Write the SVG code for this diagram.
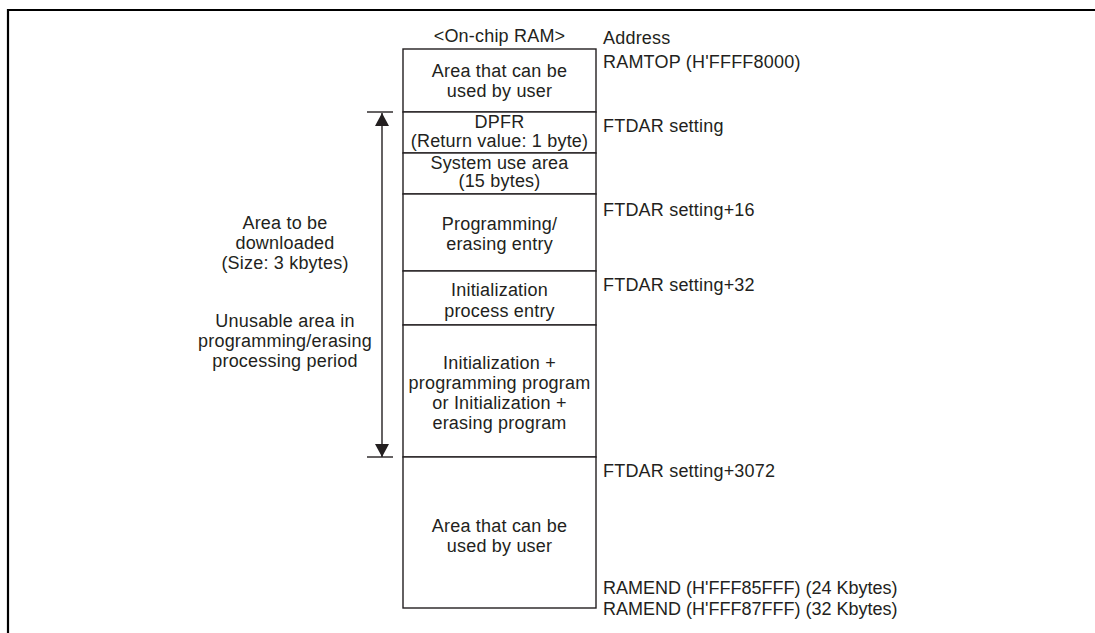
<svg xmlns="http://www.w3.org/2000/svg" width="1095" height="633" viewBox="0 0 1095 633">
<style>
text{font-family:"Liberation Sans",Arial,sans-serif;font-size:18px;letter-spacing:0.2px;fill:#231f20}
.c{text-anchor:middle}
.t{letter-spacing:0}
.cell{fill:#fff;stroke:#231f20;stroke-width:1.4}
.ln{stroke:#231f20;stroke-width:1.4;fill:none}
.frame{stroke:#000;stroke-width:2.2;fill:none}
</style>
<defs>
<marker id="ah" viewBox="0 0 13 14" refX="13" refY="7" markerWidth="13" markerHeight="14" markerUnits="userSpaceOnUse" orient="auto">
<path d="M0,0 L13,7 L0,14 Z" fill="#231f20"/>
</marker>
</defs>
<rect width="1095" height="633" fill="#fff"/>
<path class="frame" d="M8,633 V10 H1095"/>
<g id="title"><text class="c" x="499.5" y="42">&lt;On-chip RAM&gt;</text></g>
<g id="cell-user-top"><rect class="cell" x="403" y="49" width="193" height="63"/><text class="c" x="499.5" y="77">Area that can be</text><text class="c" x="499.5" y="97">used by user</text></g>
<g id="cell-dpfr"><rect class="cell" x="403" y="112" width="193" height="41"/><text class="c" x="499.5" y="127.5">DPFR</text><text class="c" x="499.5" y="146.5">(Return value: 1 byte)</text></g>
<g id="cell-system"><rect class="cell" x="403" y="153" width="193" height="41"/><text class="c" x="499.5" y="168.5">System use area</text><text class="c" x="499.5" y="187">(15 bytes)</text></g>
<g id="cell-prog-entry"><rect class="cell" x="403" y="194" width="193" height="77"/><text class="c" x="499.5" y="230">Programming/</text><text class="c" x="499.5" y="249.5">erasing entry</text></g>
<g id="cell-init-entry"><rect class="cell" x="403" y="271" width="193" height="54"/><text class="c" x="499.5" y="296">Initialization</text><text class="c" x="499.5" y="316.5">process entry</text></g>
<g id="cell-program"><rect class="cell" x="403" y="325" width="193" height="132"/><text class="c" x="499.5" y="368.5">Initialization +</text><text class="c" x="499.5" y="388.5">programming program</text><text class="c" x="499.5" y="409">or Initialization +</text><text class="c" x="499.5" y="429">erasing program</text></g>
<g id="cell-user-bottom"><rect class="cell" x="403" y="457" width="193" height="151"/><text class="c" x="499.5" y="531.5">Area that can be</text><text class="c" x="499.5" y="551.5">used by user</text></g>
<g id="addresses">
<text x="603" y="43.5">Address</text>
<text x="603" y="68">RAMTOP (H'FFFF8000)</text>
<text x="603" y="131.5">FTDAR setting</text>
<text x="603" y="215.5">FTDAR setting+16</text>
<text x="603" y="290.5">FTDAR setting+32</text>
<text x="603" y="476.5">FTDAR setting+3072</text>
<text class="t" x="603" y="594">RAMEND (H'FFF85FFF) (24 Kbytes)</text>
<text class="t" x="603" y="615">RAMEND (H'FFF87FFF) (32 Kbytes)</text>
</g>
<g id="left-labels">
<text class="c" x="285" y="229">Area to be</text>
<text class="c" x="285" y="249">downloaded</text>
<text class="c" x="285" y="269">(Size: 3 kbytes)</text>
<text class="c" x="285" y="327">Unusable area in</text>
<text class="c" x="285" y="347">programming/erasing</text>
<text class="c" x="285" y="367">processing period</text>
</g>
<g id="connectors">
<line class="ln" x1="367" y1="112" x2="393" y2="112"/>
<line class="ln" x1="367" y1="457" x2="393" y2="457"/>
<line class="ln" x1="382" y1="284" x2="382" y2="113" marker-end="url(#ah)"/>
<line class="ln" x1="382" y1="284" x2="382" y2="457" marker-end="url(#ah)"/>
</g>
</svg>
